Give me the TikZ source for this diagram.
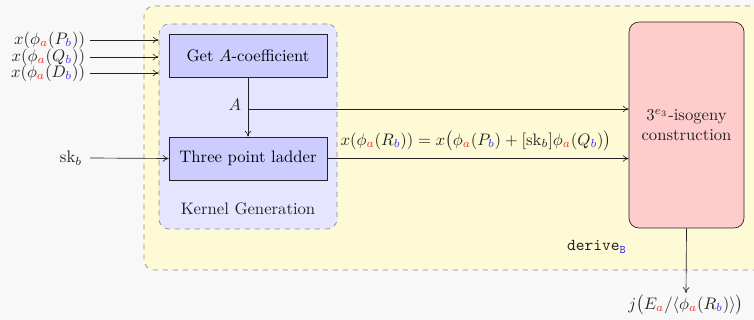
\documentclass[tikz,border=0pt]{standalone}
\usetikzlibrary{arrows.meta}
\definecolor{bgc}{HTML}{F8F8F8}
\definecolor{yel}{HTML}{FFFAD6}
\definecolor{kern}{HTML}{E5E5FF}
\definecolor{boxb}{HTML}{CCCCFF}
\definecolor{boxr}{HTML}{FFCCCC}
\definecolor{ca}{HTML}{F03030}
\definecolor{cb}{HTML}{3535F0}
\definecolor{lin}{HTML}{222222}
\definecolor{dash}{HTML}{888888}
\newcommand{\va}{{\color{ca}a}}
\newcommand{\vb}{{\color{cb}b}}
\begin{document}
\begin{tikzpicture}[x=0.6pt,y=-0.6pt,
  conn/.style={draw=lin,-{To[length=3.5pt,width=4pt]}},
  blk/.style={draw=lin,fill=boxb,minimum width=94.8pt,minimum height=25.8pt,inner sep=0pt},
  grp/.style={draw=dash,dashed,rounded corners=6pt,inner sep=0pt},
  lbl/.style={inner sep=1pt,text=lin}]
\fill[bgc] (0,0) rectangle (754,320);
\clip (0,0) rectangle (754,320);
\node[grp,fill=yel,minimum width=375.6pt,minimum height=158.4pt] (derive) at (457,138) {};
\node[grp,fill=kern,minimum width=106.8pt,minimum height=123pt] (kg) at (248,126.5) {};
\node[blk] (get) at (248,55.5) {Get $A$-coefficient};
\node[blk] (lad) at (248,158.5) {Three point ladder};
\node[lbl] (kgl) at (248,209) {Kernel Generation};
\node[draw=lin,fill=boxr,rounded corners=6pt,minimum width=69pt,minimum height=123.6pt,inner sep=0pt,align=center,text=lin] (iso) at (686.5,125) {$3^{e_3}$-isogeny\\construction};
\node[lbl,anchor=east] (inP) at (87,40) {$x(\phi_{\va}(P_{\vb}))$};
\node[lbl,anchor=east] (inQ) at (87,57) {$x(\phi_{\va}(Q_{\vb}))$};
\node[lbl,anchor=east] (inD) at (87,73) {$x(\phi_{\va}(D_{\vb}))$};
\node[lbl,anchor=east] (sk) at (84,158) {$\mathrm{sk}_b$};
\draw[conn] (inP.east) ++(3,0) coordinate (p0) (p0) -- (kg.west |- p0);
\draw[conn] (inQ.east) ++(3,0) coordinate (q0) (q0) -- (kg.west |- q0);
\draw[conn] (inD.east) ++(3,0) coordinate (d0) (d0) -- (kg.west |- d0);
\draw[conn] (sk.east) ++(6,0) coordinate (s0) (s0) -- (lad.west);
\draw[conn] (get.south) -- (lad.north);
\coordinate (br) at (248,109);
\node[lbl,anchor=east] (alab) at (243,105) {$A$};
\draw[conn] (br) -- (iso.west |- br);
\draw[conn] (lad.east) -- (iso.west |- lad.east);
\node[lbl] (eq) at (476,141) {$x(\phi_{\va}(R_{\vb})) = x\bigl(\phi_{\va}(P_{\vb}) + [\mathrm{sk}_b]\phi_{\va}(Q_{\vb})\bigr)$};
\node[lbl] (dl) at (597,247) {\texttt{derive}$_{\mathtt{\color{cb}B}}$};
\node[lbl] (jout) at (686,305) {$j\bigl(E_{\va}/\langle\phi_{\va}(R_{\vb})\rangle\bigr)$};
\draw[conn] (iso.south) -- (jout.north);
\end{tikzpicture}
\end{document}
